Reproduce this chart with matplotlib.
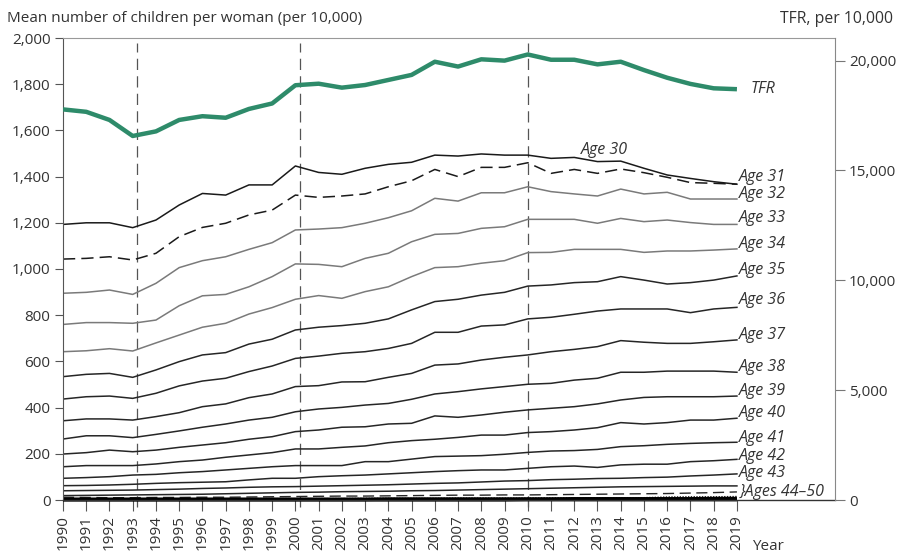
import matplotlib
matplotlib.use("Agg")
import matplotlib.pyplot as plt

plt.rcParams['font.family'] = ['Open Sans', 'DejaVu Sans']

years = list(range(1990, 2020))

# TFR, per 10,000 (right axis)
tfr = [17780, 17670, 17300, 16570, 16780, 17300, 17470, 17400, 17800, 18050,
       18880, 18950, 18770, 18890, 19120, 19350, 19950, 19730, 20060, 20000,
       20280, 20040, 20040, 19830, 19950, 19570, 19220, 18940, 18740, 18700]

# Mean number of children per woman (per 10,000), by age
age30 = [1193, 1200, 1200, 1179, 1212, 1277, 1327, 1320, 1364, 1364, 1446, 1418, 1410, 1436, 1453,
         1462, 1493, 1489, 1498, 1493, 1493, 1479, 1483, 1465, 1467, 1436, 1407, 1392, 1378, 1367]
age31 = [1043, 1046, 1053, 1039, 1068, 1140, 1180, 1198, 1234, 1255, 1320, 1310, 1316, 1325, 1356,
         1382, 1431, 1400, 1440, 1440, 1460, 1414, 1431, 1414, 1433, 1417, 1397, 1374, 1371, 1367]
age32 = [895, 899, 909, 890, 938, 1006, 1036, 1053, 1085, 1114, 1169, 1173, 1179, 1198, 1222,
         1252, 1306, 1294, 1330, 1330, 1356, 1335, 1325, 1316, 1346, 1325, 1332, 1303, 1303, 1303]
age33 = [760, 768, 768, 765, 779, 841, 884, 890, 923, 967, 1022, 1020, 1010, 1046, 1068,
         1118, 1150, 1154, 1176, 1183, 1215, 1215, 1215, 1198, 1219, 1205, 1212, 1201, 1193, 1193]
age34 = [642, 646, 655, 645, 680, 714, 748, 765, 805, 833, 869, 885, 873, 902, 923,
         967, 1006, 1010, 1025, 1036, 1071, 1072, 1085, 1085, 1085, 1072, 1078, 1078, 1082, 1087]
age35 = [534, 544, 548, 531, 563, 599, 628, 638, 675, 696, 736, 748, 755, 765, 784,
         823, 859, 869, 887, 899, 926, 931, 941, 945, 967, 952, 935, 941, 952, 970]
age36 = [437, 447, 450, 440, 462, 494, 515, 527, 556, 580, 613, 623, 635, 642, 656,
         678, 726, 726, 753, 758, 784, 791, 804, 818, 827, 827, 827, 811, 827, 834]
age37 = [343, 351, 351, 346, 361, 378, 404, 416, 443, 459, 491, 495, 511, 512, 531,
         548, 584, 589, 606, 618, 628, 642, 652, 664, 690, 683, 678, 678, 685, 693]
age38 = [264, 278, 278, 270, 284, 299, 315, 329, 346, 358, 382, 394, 401, 411, 418,
         436, 459, 469, 481, 491, 501, 505, 519, 527, 553, 553, 558, 558, 558, 553]
age39 = [199, 205, 216, 209, 216, 228, 238, 248, 263, 274, 296, 303, 315, 317, 329,
         332, 364, 358, 368, 380, 390, 397, 404, 416, 433, 444, 447, 447, 447, 450]
age40 = [144, 149, 149, 149, 156, 166, 173, 185, 195, 205, 221, 221, 228, 234, 248,
         257, 263, 271, 281, 281, 292, 296, 303, 313, 335, 329, 335, 346, 346, 354]
age41 = [94, 97, 101, 108, 111, 118, 123, 130, 137, 144, 149, 149, 149, 166, 166,
         177, 188, 190, 192, 198, 206, 212, 214, 219, 231, 235, 241, 245, 248, 250]
age42 = [62, 63, 65, 68, 72, 75, 77, 79, 87, 94, 94, 101, 105, 108, 113,
         118, 123, 127, 130, 130, 137, 144, 147, 141, 152, 155, 155, 166, 170, 176]
age43 = [40, 41, 42, 43, 45, 47, 50, 52, 55, 57, 58, 60, 62, 64, 66,
         69, 72, 74, 78, 82, 84, 88, 90, 93, 94, 97, 99, 104, 108, 113]
age44 = [19, 20, 21, 22, 23, 24, 25, 27, 29, 31, 33, 34, 36, 37, 38,
         40, 41, 43, 45, 47, 49, 51, 53, 55, 57, 58, 59, 60, 61, 61]
age45 = [12, 11, 10, 10, 11, 11, 12, 12, 13, 14, 15, 16, 17, 17, 18,
         19, 20, 21, 21, 22, 22, 23, 24, 25, 26, 27, 28, 30, 32, 35]
age46 = [5, 5, 5, 5, 5, 5, 5, 5, 6, 6, 6, 6, 6, 7, 7,
         7, 7, 8, 8, 8, 8, 9, 9, 9, 10, 10, 13, 14, 14, 15]
age47 = [3, 3, 3, 3, 3, 3, 3, 3, 3, 3, 3, 3, 3, 3, 4,
         4, 4, 4, 4, 4, 4, 4, 5, 5, 5, 5, 5, 5, 6, 6]
age48 = [1, 1, 1, 1, 1, 1, 1, 1, 1, 1, 1, 1, 1, 1, 1,
         1, 1, 1, 1, 1, 2, 2, 2, 2, 2, 2, 2, 2, 2, 2]

age_labels = ["Age 31", "Age 32", "Age 33", "Age 34", "Age 35", "Age 36", "Age 37",
              "Age 38", "Age 39", "Age 40", "Age 41", "Age 42", "Age 43", "}Ages 44\u201350"]

W, H = 906, 555
fig = plt.figure(figsize=(W / 100, H / 100), dpi=100)
L, R, T, B = 63, 835, 38, 500
ax = fig.add_axes([L / W, 1 - B / H, (R - L) / W, (B - T) / H])
ax.set_xlim(1990, 2023.22)
ax.set_ylim(0, 2000)

txt = '#333333'
black = '#1a1a1a'
grey = '#7a7a7a'
dark = '#262626'
lw = 1.1

# vertical dashed reference lines
for b in [1993.2, 2000.2, 2010.0]:
    ax.axvline(b, ymin=-0.016, ymax=0.989, color='#555555', lw=0.9,
               dashes=(9, 5), clip_on=False, zorder=1)

ax.plot(years, age30, color=black, lw=lw)
ax.plot(years, age31, color=black, lw=lw, dashes=(8, 4))
for s in (age32, age33, age34):
    ax.plot(years, s, color=grey, lw=lw)
for s in (age35, age36, age37, age38, age39, age40, age41, age42, age43, age44):
    ax.plot(years, s, color=dark, lw=lw)
ax.plot(years, age45, color=dark, lw=1.0, dashes=(8, 4))
ax.plot(years, age46, color=dark, lw=1.0, dashes=(1, 1))
ax.plot(years, age47, color='black', lw=2.6, clip_on=False, solid_capstyle='butt')
ax.plot(years, age48, color='black', lw=2.6, clip_on=False, solid_capstyle='butt')

# right-side labels
label_y = [1398, 1325, 1221, 1108, 996, 866, 714, 575, 472, 377, 268, 190, 117, 35]
for lab, yv in zip(age_labels, label_y):
    ax.text(2019.1, yv, lab, fontsize=11.5, style='italic', color=txt,
            va='center', ha='left')
ax.text(2012.3, 1515, "Age 30", fontsize=11.5, style='italic', color=txt,
        va='center', ha='left')

# axes styling
ax.set_yticks(range(0, 2001, 200))
ax.set_yticklabels([f"{v:,}" for v in range(0, 2001, 200)])
ax.set_xticks(years)
ax.set_xticklabels([str(y) for y in years], rotation=90)
ax.tick_params(axis='y', direction='out', length=6, width=0.8, color='#555555',
               labelsize=11, labelcolor=txt, pad=3)
ax.tick_params(axis='x', direction='out', length=8, width=0.8, color='#555555',
               labelsize=11, labelcolor=txt, pad=3)
ax.spines['left'].set_color('#555555')
ax.spines['left'].set_linewidth(0.8)
ax.spines['bottom'].set_color('#333333')
ax.spines['bottom'].set_linewidth(1.0)
ax.spines['top'].set_color('#999999')
ax.spines['top'].set_linewidth(0.8)
ax.spines['right'].set_visible(False)

ax2 = ax.twinx()
ax2.set_ylim(0, 21030)
ax2.plot(years, tfr, color='#2e8b6a', lw=3.2, solid_capstyle='butt')
ax2.text(2019.6, tfr[-1], "TFR", fontsize=11.5, style='italic', color=txt,
         va='center', ha='left')
ax2.set_yticks([0, 5000, 10000, 15000, 20000])
ax2.set_yticklabels([f"{v:,}" for v in [0, 5000, 10000, 15000, 20000]])
ax2.tick_params(axis='y', direction='out', length=7, width=0.8, color='#777777',
                labelsize=11, labelcolor=txt, pad=3)
for sp in ('left', 'top', 'bottom'):
    ax2.spines[sp].set_visible(False)
ax2.spines['right'].set_color('#888888')
ax2.spines['right'].set_linewidth(0.8)

fig.text(7 / W, 1 - 18 / H, "Mean number of children per woman (per 10,000)",
         fontsize=11, color=txt, va='center', ha='left')
fig.text(893 / W, 1 - 19 / H, "TFR, per 10,000", fontsize=11.3, color=txt,
         va='center', ha='right')
fig.text(752 / W, 1 - 547 / H, "Year", fontsize=11, color=txt, va='center', ha='left')

fig.savefig("out.png", dpi=100)
